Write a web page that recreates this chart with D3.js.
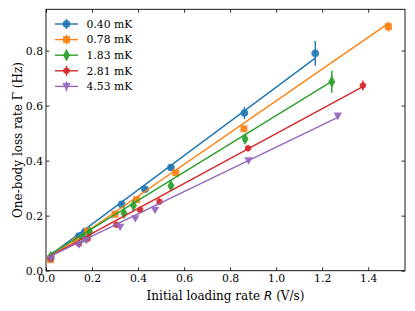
<!DOCTYPE html>
<html>
<head>
  <meta charset="utf-8">
  <script src="https://cdn.jsdelivr.net/npm/d3@7"></script>
  <style>
    body { margin: 0; background: #fff; }
    text { font-family: "DejaVu Serif", serif; fill: #000; }
  </style>
</head>
<body>
<script>
// temperatures for the legend
var labels = ["0.40 mK", "0.78 mK", "1.83 mK", "2.81 mK", "4.53 mK"];
var colors = ["#1f77b4", "#ff7f0e", "#2ca02c", "#d62728", "#9467bd"];
var markers = ["circle", "square", "diamond", "hexagon", "triangle"];

// loading rate R (V/s) for each series
var rate = [
  [0.02, 0.143, 0.17, 0.329, 0.43, 0.543, 0.862, 1.17],
  [0.02, 0.13, 0.18, 0.30, 0.394, 0.564, 0.86, 1.488],
  [0.02, 0.162, 0.19, 0.339, 0.38, 0.543, 0.865, 1.242],
  [0.02, 0.143, 0.181, 0.306, 0.409, 0.493, 0.878, 1.377],
  [0.022, 0.143, 0.174, 0.322, 0.388, 0.474, 0.88, 1.268]
];
// loss rate Gamma (Hz)
var gamma = [
  [0.045, 0.126, 0.142, 0.241, 0.296, 0.375, 0.573, 0.79],
  [0.04, 0.108, 0.144, 0.205, 0.258, 0.356, 0.516, 0.887],
  [0.05, 0.121, 0.14, 0.209, 0.237, 0.309, 0.479, 0.687],
  [0.045, 0.098, 0.116, 0.167, 0.221, 0.251, 0.445, 0.673],
  [0.043, 0.095, 0.11, 0.158, 0.189, 0.22, 0.40, 0.562]
];
// error on Gamma
var gammaErr = [
  [0.006, 0.006, 0.006, 0.008, 0.008, 0.01, 0.022, 0.045],
  [0.006, 0.006, 0.006, 0.008, 0.008, 0.01, 0.01, 0.018],
  [0.006, 0.006, 0.006, 0.008, 0.008, 0.01, 0.012, 0.04],
  [0.006, 0.006, 0.006, 0.006, 0.006, 0.008, 0.01, 0.018],
  [0.005, 0.005, 0.005, 0.005, 0.005, 0.006, 0.006, 0.008]
];
// linear fits: intercept and slope
var fitIntercept = [0.045, 0.04, 0.05, 0.045, 0.045];
var fitSlope = [0.622, 0.577, 0.514, 0.453, 0.404];

var xTicks = [0.0, 0.2, 0.4, 0.6, 0.8, 1.0, 1.2, 1.4];
var yTicks = [0.0, 0.2, 0.4, 0.6, 0.8];

var width = 415, height = 311;
var plot = { left: 46, right: 405, top: 9.3, bottom: 270.7 };

var svg = d3.select("body").append("svg")
  .attr("width", width)
  .attr("height", height);

var x = d3.scaleLinear().domain([0, 1.56]).range([plot.left, plot.right]);
var y = d3.scaleLinear().domain([0, 0.95]).range([plot.bottom, plot.top]);

var symbolFor = {
  circle: d3.symbol().type(d3.symbolCircle).size(46),
  square: d3.symbol().type(d3.symbolSquare).size(48),
  diamond: d3.symbol().type(d3.symbolDiamond).size(44)
};

function markerPath(kind) {
  if (kind == "hexagon") {
    var r = 3.6, pts = [];
    for (var k = 0; k < 6; k++) {
      var a = Math.PI / 2 + k * Math.PI / 3;
      pts.push([r * Math.cos(a), r * Math.sin(a)]);
    }
    return "M" + pts.join("L") + "Z";
  }
  if (kind == "triangle") {
    var s = 4.3;
    return "M" + (-s) + "," + (-s * 0.8) + "L" + s + "," + (-s * 0.8) + "L0," + (s * 0.95) + "Z";
  }
  return symbolFor[kind]();
}

// axes, ticks pointing inward on all four sides
svg.append("g").attr("transform", "translate(0," + plot.bottom + ")")
  .call(d3.axisBottom(x).tickValues(xTicks).tickFormat(d3.format(".1f")).tickSizeInner(-3.5).tickSizeOuter(0).tickPadding(3.5));
svg.append("g").attr("transform", "translate(0," + plot.top + ")")
  .call(d3.axisTop(x).tickValues(xTicks).tickFormat("").tickSizeInner(-3.5).tickSizeOuter(0));
svg.append("g").attr("transform", "translate(" + plot.left + ",0)")
  .call(d3.axisLeft(y).tickValues(yTicks).tickFormat(d3.format(".1f")).tickSizeInner(-3.5).tickSizeOuter(0).tickPadding(3));
svg.append("g").attr("transform", "translate(" + plot.right + ",0)")
  .call(d3.axisRight(y).tickValues(yTicks).tickFormat("").tickSizeInner(-3.5).tickSizeOuter(0));

svg.selectAll(".domain").remove();
svg.selectAll(".tick line").attr("stroke", "#000").attr("stroke-width", 0.8);
svg.selectAll(".tick text").style("font-family", "DejaVu Serif").style("font-size", "10.8px");

svg.append("rect")
  .attr("x", plot.left).attr("y", plot.top)
  .attr("width", plot.right - plot.left).attr("height", plot.bottom - plot.top)
  .attr("fill", "none").attr("stroke", "#000").attr("stroke-width", 0.9);

// series: fit line, error bars, markers
labels.forEach(function(lab, i) {
  var g = svg.append("g");
  var x0 = rate[i][0], x1 = rate[i][rate[i].length - 1];
  g.append("line")
    .attr("x1", x(x0)).attr("y1", y(fitIntercept[i] + fitSlope[i] * x0))
    .attr("x2", x(x1)).attr("y2", y(fitIntercept[i] + fitSlope[i] * x1))
    .attr("stroke", colors[i]).attr("stroke-width", 1.4);

  var pts = rate[i].map(function(r, j) { return { r: r, g: gamma[i][j], e: gammaErr[i][j] }; });

  g.selectAll(".err").data(pts).enter().append("line")
    .attr("x1", function(d) { return x(d.r); })
    .attr("x2", function(d) { return x(d.r); })
    .attr("y1", function(d) { return y(d.g - d.e); })
    .attr("y2", function(d) { return y(d.g + d.e); })
    .attr("stroke", colors[i]).attr("stroke-width", 1.4);

  g.selectAll(".pt").data(pts).enter().append("path")
    .attr("d", markerPath(markers[i]))
    .attr("transform", function(d) { return "translate(" + x(d.r) + "," + y(d.g) + ")"; })
    .attr("fill", colors[i]).attr("opacity", 0.9);
});

// legend
var legend = svg.append("g");
labels.forEach(function(lab, i) {
  var ly = 24 + i * 15.6;
  legend.append("line").attr("x1", 55).attr("x2", 78).attr("y1", ly).attr("y2", ly)
    .attr("stroke", colors[i]).attr("stroke-width", 1.4);
  legend.append("line").attr("x1", 66.5).attr("x2", 66.5).attr("y1", ly - 5).attr("y2", ly + 5)
    .attr("stroke", colors[i]).attr("stroke-width", 1.4);
  legend.append("path").attr("d", markerPath(markers[i]))
    .attr("transform", "translate(66.5," + ly + ")")
    .attr("fill", colors[i]).attr("opacity", 0.9);
  legend.append("text").attr("x", 86.5).attr("y", ly).attr("dy", "0.35em")
    .style("font-size", "10.8px").text(lab);
});

// axis labels
var xl = svg.append("text")
  .attr("x", (plot.left + plot.right) / 2).attr("y", 300)
  .attr("text-anchor", "middle").style("font-size", "12px");
xl.append("tspan").text("Initial loading rate ");
xl.append("tspan").style("font-family", "DejaVu Sans").style("font-style", "italic").text("R");
xl.append("tspan").text(" (V/s)");

svg.append("text")
  .attr("transform", "translate(22," + ((plot.top + plot.bottom) / 2) + ") rotate(-90)")
  .attr("text-anchor", "middle").style("font-size", "12px")
  .text("One-body loss rate  \u0393 (Hz)");
</script>
</body>
</html>
